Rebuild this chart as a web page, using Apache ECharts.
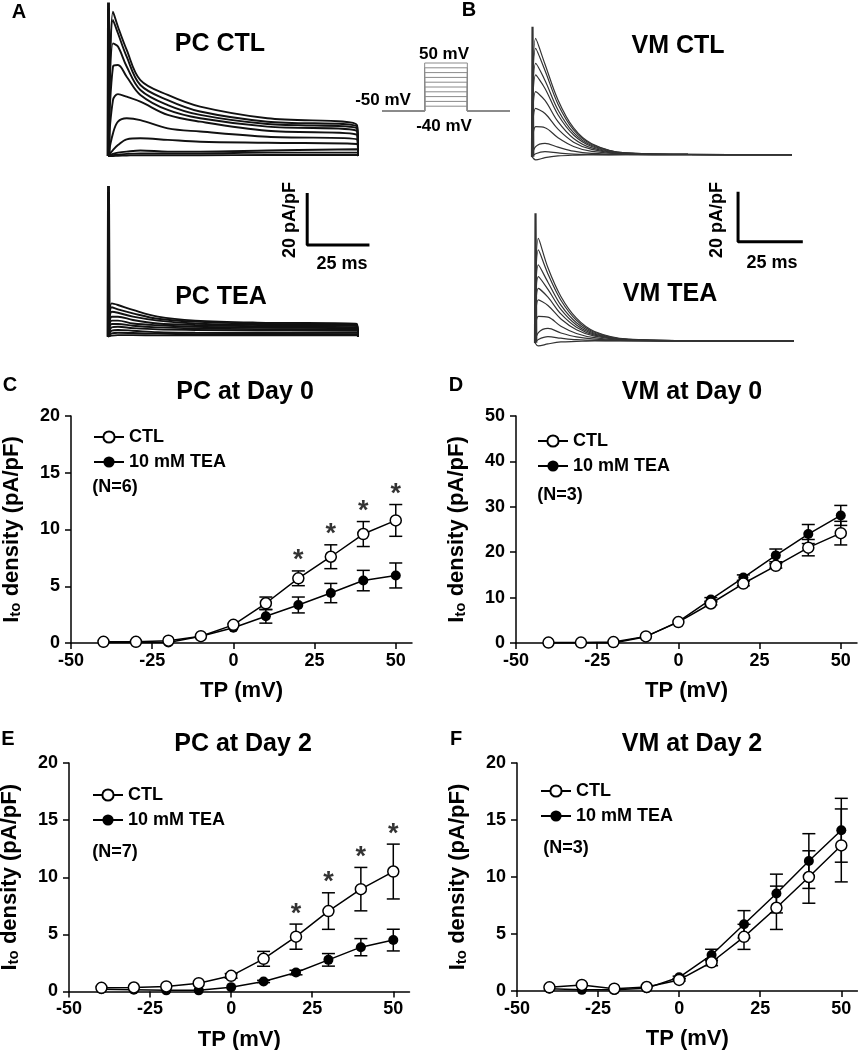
<!DOCTYPE html>
<html><head><meta charset="utf-8">
<script src="https://cdn.jsdelivr.net/npm/echarts@6/dist/echarts.min.js"></script>
<style>html,body{margin:0;padding:0;background:#fff}#c{width:858px;height:1050px}</style>
</head><body><div id="c"></div>
<script>
const FONT = '"Liberation Sans", Arial, Helvetica, sans-serif';

// ---------- I-V data (test potential, mV) ----------
const tp = [-40, -30, -20, -10, 0, 10, 20, 30, 40, 50];
const xTicks = [-50, -25, 0, 25, 50];
const starTp = [20, 30, 40, 50];

const pcD0Ctl    = [0.1, 0.1, 0.2, 0.6, 1.6, 3.5, 5.7, 7.6, 9.6, 10.8];
const pcD0CtlErr = [0, 0, 0, 0, 0, 0.55, 0.65, 1.05, 1.1, 1.4];
const pcD0Tea    = [0.05, 0.05, 0.05, 0.6, 1.35, 2.35, 3.35, 4.4, 5.5, 5.95];
const pcD0TeaErr = [0, 0, 0, 0, 0, 0.6, 0.7, 0.85, 0.9, 1.1];

const vmD0Ctl    = [0.1, 0.1, 0.2, 1.45, 4.6, 8.7, 13.1, 17.0, 21.0, 24.2];
const vmD0CtlErr = [0, 0, 0, 0, 0, 0.3, 0.5, 0.5, 1.8, 2.6];
const vmD0Tea    = [0, 0, 0, 1.4, 4.7, 9.6, 14.4, 19.3, 24.0, 28.1];
const vmD0TeaErr = [0, 0, 0, 0, 0, 0.4, 0.6, 1.4, 2.1, 2.2];

const pcD2Ctl    = [0.32, 0.35, 0.44, 0.73, 1.37, 2.86, 4.8, 7.04, 8.96, 10.5];
const pcD2CtlErr = [0, 0, 0, 0, 0.2, 0.65, 1.1, 1.6, 1.9, 2.4];
const pcD2Tea    = [0.2, 0.15, 0.1, 0.1, 0.38, 0.88, 1.66, 2.77, 3.88, 4.5];
const pcD2TeaErr = [0, 0, 0, 0, 0, 0.1, 0.2, 0.55, 0.75, 0.95];

const vmD2Ctl    = [0.32, 0.53, 0.2, 0.35, 0.97, 2.52, 4.75, 7.3, 10.0, 12.77];
const vmD2CtlErr = [0, 0, 0, 0, 0.1, 0.3, 1.1, 1.9, 2.3, 3.2];
const vmD2Tea    = [0.2, 0.1, 0.1, 0.25, 1.2, 3.16, 5.85, 8.55, 11.4, 14.1];
const vmD2TeaErr = [0, 0, 0, 0, 0.1, 0.5, 1.2, 1.7, 2.4, 2.8];

// ---------- current traces (ms, pA/pF) ----------
const pcCtlTime = [0, 2, 4, 7.5, 13, 24, 37, 64, 100, 100.4];
const pcCtlTraces = [
  [0, 55.5, 49.7, 40.8, 29.2, 23.5, 19.0, 14.5, 11.9, 0],
  [0, 52.3, 47.2, 38.2, 27.3, 21.5, 17.1, 13.2, 11.3, 0],
  [0, 43.3, 42.1, 34.4, 25.4, 19.6, 15.8, 12.3, 10.6, 0],
  [0, 34.4, 35.0, 30.5, 23.5, 17.7, 14.5, 11.3, 9.6, 0],
  [0, 21.5, 23.8, 22.8, 20.9, 15.8, 13.2, 9.7, 8.1, 0],
  [0, 8.7, 13.2, 14.5, 13.8, 10.6, 9.4, 7.4, 6.4, 0],
  [0, 2.3, 4.2, 6.4, 6.8, 6.2, 5.5, 5.1, 4.6, 0],
  [0, 0.8, 1.3, 1.7, 2.1, 1.7, 1.7, 2.1, 2.6, 0],
  [0, 0.3, 0.5, 0.8, 1.0, 1.0, 1.0, 1.3, 1.3, 0],
  [0, 0, 0.1, 0.2, 0.3, 0.3, 0.3, 0.4, 0.4, 0]
];
const pcTeaTime = [0, 1.5, 4, 10, 20, 35, 60, 100, 100.4];
const pcTeaTraces = [
  [0, 12.8, 12.2, 10.3, 7.7, 6.2, 5.4, 4.9, 0],
  [0, 11.3, 10.5, 9.0, 6.9, 5.8, 5.0, 4.5, 0],
  [0, 9.6, 9.2, 7.7, 6.2, 5.1, 4.5, 4.1, 0],
  [0, 7.7, 7.7, 6.4, 5.1, 4.5, 4.0, 3.6, 0],
  [0, 6.2, 6.2, 5.1, 4.4, 3.8, 3.5, 3.2, 0],
  [0, 4.9, 4.9, 4.2, 3.6, 3.2, 2.9, 2.8, 0],
  [0, 3.6, 3.8, 3.3, 2.8, 2.6, 2.4, 2.3, 0],
  [0, 2.3, 2.6, 2.3, 1.7, 1.5, 1.4, 1.5, 0],
  [0, 1.3, 1.5, 1.4, 1.2, 1.0, 1.0, 1.0, 0],
  [0, 0.4, 0.6, 0.6, 0.5, 0.5, 0.5, 0.5, 0]
];
const vmCtlTime = [0, 1.4, 5, 10, 16, 23, 36, 60, 100];
const vmCtlTraces = [
  [0, 47.3, 37.0, 22.7, 11.5, 5.2, 1.5, 0.9, 0.8],
  [0, 43.3, 34.5, 21.0, 10.7, 4.9, 1.5, 0.9, 0.8],
  [0, 37.3, 30.5, 18.7, 9.6, 4.5, 1.4, 0.9, 0.8],
  [0, 32.7, 27.3, 16.8, 8.7, 4.1, 1.3, 0.9, 0.8],
  [0, 26.0, 22.5, 14.0, 7.3, 3.5, 1.2, 0.9, 0.8],
  [0, 19.3, 17.3, 11.0, 5.8, 2.9, 1.1, 0.9, 0.8],
  [0, 12.0, 11.6, 7.6, 4.1, 2.1, 1.0, 0.8, 0.8],
  [0, 4.0, 5.3, 3.8, 2.2, 1.3, 0.9, 0.8, 0.8],
  [0, 1.2, 2.0, 1.5, 1.0, 0.9, 0.8, 0.8, 0.8],
  [0, -1.3, -0.4, 0.3, 0.6, 0.7, 0.8, 0.8, 0.8]
];
const vmTeaTime = [0, 1.3, 5, 10, 16, 23, 36, 60, 100];
const vmTeaTraces = [
  [0, 41.7, 30.0, 18.5, 9.8, 4.5, 1.4, 0.8, 0.7],
  [0, 37.1, 27.5, 17.0, 9.0, 4.2, 1.3, 0.8, 0.7],
  [0, 31.1, 24.2, 15.0, 8.0, 3.8, 1.2, 0.8, 0.7],
  [0, 26.4, 21.3, 13.3, 7.1, 3.4, 1.2, 0.8, 0.7],
  [0, 21.7, 18.2, 11.5, 6.2, 3.0, 1.1, 0.8, 0.7],
  [0, 17.1, 14.9, 9.5, 5.2, 2.6, 1.0, 0.8, 0.7],
  [0, 10.5, 10.2, 6.6, 3.7, 2.0, 0.9, 0.8, 0.7],
  [0, 4.0, 5.7, 3.9, 2.3, 1.4, 0.8, 0.7, 0.7],
  [0, 1.3, 2.4, 1.8, 1.2, 0.9, 0.8, 0.7, 0.7],
  [0, -1.3, -0.5, 0.3, 0.5, 0.7, 0.7, 0.7, 0.7]
];
const spikeTime = [0, 0.2, 0.5];
const pcCtlSpike = [0, 59, 0];
const pcTeaSpike = [0, 58, 0];
const vmCtlSpike = [0, 52, 0];
const vmTeaSpike = [0, 51.8, 0];

// scale bars (ms, pA/pF): 25 ms x 20 pA/pF
const scaleBarA = [[80, 55.3], [80, 35.3], [105, 35.3]];
const scaleBarB = [[78.4, 60.4], [78.4, 40.4], [103.4, 40.4]];

// voltage protocol (ms, mV)
const protoTime = [-20, 0, 0, 20, 20, 40];
const holdV = -50;
const stepV = [-40, -30, -20, -10, 0, 10, 20, 30, 40, 50];

// ---------- build ----------
const grids = [], xAxes = [], yAxes = [], series = [];
function addGrid(g, xa, ya) {
  grids.push(Object.assign({ outerBoundsMode: 'none', containLabel: false }, g));
  const i = grids.length - 1;
  xAxes.push(Object.assign({ gridIndex: i }, xa));
  yAxes.push(Object.assign({ gridIndex: i }, ya));
  return i;
}
const hidden = (min, max) => ({ type: 'value', min, max, show: false });

function traceGrid(g, time, traces, spike, color, width, xmin, xmax, ymin, ymax) {
  const gi = addGrid(g, hidden(xmin, xmax), hidden(ymin, ymax));
  traces.forEach(tr => series.push({
    type: 'line', xAxisIndex: gi, yAxisIndex: gi, silent: true, showSymbol: false, symbol: 'none',
    smooth: 0.35, clip: false, data: time.map((t, k) => [t, tr[k]]),
    lineStyle: { color, width }
  }));
  series.push({
    type: 'line', xAxisIndex: gi, yAxisIndex: gi, silent: true, symbol: 'none', clip: false,
    data: spikeTime.map((t, k) => [t, spike[k]]), lineStyle: { color, width: width + 1 }
  });
  return gi;
}

const gPcCtl = traceGrid({ left: 108, top: 0, width: 273.9, height: 169 }, pcCtlTime, pcCtlTraces, pcCtlSpike, '#111', 1.9, 0, 110, -5, 60);
const gPcTea = traceGrid({ left: 108, top: 180.7, width: 273.9, height: 169 }, pcTeaTime, pcTeaTraces, pcTeaSpike, '#111', 1.9, 0, 110, -5, 60);
const gVmCtl = traceGrid({ left: 532, top: 6.7, width: 286, height: 162.5 }, vmCtlTime, vmCtlTraces, vmCtlSpike, '#333', 1.2, 0, 110, -5, 60);
const gVmTea = traceGrid({ left: 535, top: 192.7, width: 284.9, height: 162.5 }, vmTeaTime, vmTeaTraces, vmTeaSpike, '#333', 1.2, 0, 110, -5, 60);

series.push({ type: 'line', xAxisIndex: gPcTea, yAxisIndex: gPcTea, silent: true, symbol: 'none', clip: false,
  data: scaleBarA, lineStyle: { color: '#000', width: 3 } });
series.push({ type: 'line', xAxisIndex: gVmTea, yAxisIndex: gVmTea, silent: true, symbol: 'none', clip: false,
  data: scaleBarB, lineStyle: { color: '#000', width: 3 } });

// protocol
const gProto = addGrid({ left: 382, top: 63, width: 128, height: 48 }, hidden(-20, 40), hidden(-50, 50));
stepV.forEach(v => series.push({
  type: 'line', xAxisIndex: gProto, yAxisIndex: gProto, silent: true, symbol: 'none', clip: false,
  data: protoTime.map((t, k) => [t, (k === 0 || k === 1 || k === 4 || k === 5) ? holdV : v]),
  lineStyle: { color: '#8a8a8a', width: 1 }
}));

// I-V panels
const axisStyle = { lineStyle: { color: '#000', width: 1.5 } };
function ivGrid(g, ymax, yint) {
  return addGrid(g, {
    type: 'value', min: -50, max: 55, interval: 25,
    axisLine: Object.assign({ onZero: false }, axisStyle),
    axisTick: { length: 6, lineStyle: { color: '#000', width: 1.5 }, customValues: xTicks },
    axisLabel: { customValues: xTicks, color: '#000', fontSize: 18, fontWeight: 'bold', fontFamily: FONT, margin: 9 },
    splitLine: { show: false },
    name: 'TP (mV)', nameLocation: 'middle', nameGap: 37,
    nameTextStyle: { color: '#000', fontSize: 22, fontWeight: 'bold', fontFamily: FONT }
  }, {
    type: 'value', min: 0, max: ymax, interval: yint,
    axisLine: Object.assign({ show: true, onZero: false }, axisStyle),
    axisTick: { show: true, length: 6, lineStyle: { color: '#000', width: 1.5 } },
    axisLabel: { color: '#000', fontSize: 18, fontWeight: 'bold', fontFamily: FONT, margin: 11 },
    splitLine: { show: false },
    name: '{i|I}{s|to}{i| density (pA/pF)}', nameLocation: 'middle', nameGap: 48, nameRotate: 90,
    nameTextStyle: {
      color: '#000', fontFamily: FONT, fontWeight: 'bold',
      rich: {
        i: { fontSize: 22, fontWeight: 'bold', fontFamily: FONT, color: '#000' },
        s: { fontSize: 15, fontWeight: 'bold', fontFamily: FONT, color: '#000', lineHeight: 6, verticalAlign: 'bottom' }
      }
    }
  });
}
function errSeries(gi, ys, es) {
  return {
    type: 'custom', xAxisIndex: gi, yAxisIndex: gi, z: 1, silent: true, clip: false,
    data: tp.map((x, i) => [x, ys[i], es[i]]),
    renderItem(params, api) {
      const x = api.value(0), y = api.value(1), e = api.value(2);
      if (!e) return null;
      const a = api.coord([x, y + e]), b = api.coord([x, y - e]);
      const w = 6.5, st = { stroke: '#000', lineWidth: 1.5 };
      return { type: 'group', children: [
        { type: 'line', shape: { x1: a[0], y1: a[1], x2: b[0], y2: b[1] }, style: st },
        { type: 'line', shape: { x1: a[0] - w, y1: a[1], x2: a[0] + w, y2: a[1] }, style: st },
        { type: 'line', shape: { x1: b[0] - w, y1: b[1], x2: b[0] + w, y2: b[1] }, style: st }
      ]};
    }
  };
}
function ivSeries(gi, ctl, ctlErr, tea, teaErr, stars) {
  series.push(errSeries(gi, tea, teaErr));
  series.push(errSeries(gi, ctl, ctlErr));
  series.push({
    name: '10 mM TEA', type: 'line', xAxisIndex: gi, yAxisIndex: gi, z: 2,
    data: tp.map((x, i) => [x, tea[i]]), symbol: 'circle', symbolSize: 10,
    itemStyle: { color: '#000' }, lineStyle: { color: '#000', width: 1.5 }
  });
  series.push({
    name: 'CTL', type: 'line', xAxisIndex: gi, yAxisIndex: gi, z: 3,
    data: tp.map((x, i) => [x, ctl[i]]), symbol: 'circle', symbolSize: 11,
    itemStyle: { color: '#fff', borderColor: '#000', borderWidth: 1.5 }, lineStyle: { color: '#000', width: 1.5 }
  });
  if (stars) {
    series.push({
      type: 'scatter', xAxisIndex: gi, yAxisIndex: gi, z: 4, silent: true, symbolSize: 1,
      itemStyle: { color: 'rgba(0,0,0,0)' },
      data: starTp.map(x => { const i = tp.indexOf(x); return [x, ctl[i] + ctlErr[i]]; }),
      label: { show: true, position: 'top', distance: -4, formatter: '*', color: '#000',
        fontSize: 27, fontWeight: 'bold', fontFamily: FONT }
    });
  }
}
const gC = ivGrid({ left: 71, top: 416, width: 341, height: 227 }, 20, 5);
const gD = ivGrid({ left: 516, top: 416, width: 341, height: 227 }, 50, 10);
const gE = ivGrid({ left: 69, top: 763, width: 340.5, height: 228.5 }, 20, 5);
const gF = ivGrid({ left: 517, top: 763, width: 340.5, height: 228 }, 20, 5);
ivSeries(gC, pcD0Ctl, pcD0CtlErr, pcD0Tea, pcD0TeaErr, true);
ivSeries(gD, vmD0Ctl, vmD0CtlErr, vmD0Tea, vmD0TeaErr, false);
ivSeries(gE, pcD2Ctl, pcD2CtlErr, pcD2Tea, pcD2TeaErr, true);
ivSeries(gF, vmD2Ctl, vmD2CtlErr, vmD2Tea, vmD2TeaErr, false);

function legend(left, top) {
  return {
    data: ['CTL', '10 mM TEA'], left, top, orient: 'vertical', padding: 0,
    itemWidth: 30, itemHeight: 14, itemGap: 7, selectedMode: false,
    textStyle: { color: '#000', fontSize: 18, fontWeight: 'bold', fontFamily: FONT }
  };
}

function txt(text, x, y, size, extra) {
  return Object.assign({ type: 'text', x, y, silent: true, style: {
    text, fill: '#000', fontSize: size, fontWeight: 'bold', fontFamily: FONT,
    align: 'center', verticalAlign: 'middle' } }, extra || {});
}
const graphic = [
  txt('A', 19, 12, 20), txt('B', 469, 10, 20), txt('C', 10, 385, 20),
  txt('D', 456, 385, 20), txt('E', 8, 739, 20), txt('F', 456, 739, 20),
  txt('PC CTL', 220, 44, 25), txt('PC TEA', 221, 297, 25),
  txt('VM CTL', 678, 46, 25), txt('VM TEA', 670, 294, 25),
  txt('20 pA/pF', 290, 220, 18, { rotation: Math.PI / 2 }), txt('25 ms', 342, 264, 18),
  txt('20 pA/pF', 717, 220, 18, { rotation: Math.PI / 2 }), txt('25 ms', 772, 263, 18),
  txt('50 mV', 444, 54, 17), txt('-50 mV', 383, 100, 17), txt('-40 mV', 444, 126, 17),
  txt('PC at Day 0', 245, 392, 25), txt('VM at Day 0', 692, 392, 25),
  txt('PC at Day 2', 243, 744, 25), txt('VM at Day 2', 692, 744, 25),
  txt('(N=6)', 115, 487, 18), txt('(N=3)', 560, 495, 18),
  txt('(N=7)', 115, 852, 18), txt('(N=3)', 566, 848, 18)
];

const chart = echarts.init(document.getElementById('c'), null, { renderer: 'canvas' });
chart.setOption({
  backgroundColor: '#fff', animation: false,
  grid: grids, xAxis: xAxes, yAxis: yAxes, series,
  legend: [legend(93, 428), legend(537, 432), legend(92, 786), legend(540, 782)],
  graphic
});
</script></body></html>
